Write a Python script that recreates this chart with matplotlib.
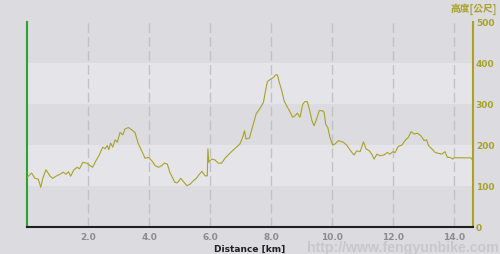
import matplotlib
matplotlib.use('Agg')
import matplotlib.pyplot as plt

# elevation profile
distance_km = [0.00, 0.15, 0.26, 0.37, 0.45, 0.51, 0.62, 0.75, 0.84, 0.97,
               1.08, 1.19, 1.28, 1.36, 1.43, 1.54, 1.65, 1.72, 1.83, 1.96,
               2.07, 2.15, 2.26, 2.37, 2.48, 2.56, 2.63, 2.68, 2.74, 2.81,
               2.89, 2.96, 3.05, 3.14, 3.21, 3.32, 3.40, 3.54, 3.65, 3.76,
               3.87, 3.98, 4.09, 4.20, 4.31, 4.42, 4.50, 4.60, 4.69, 4.85,
               4.93, 5.04, 5.13, 5.24, 5.35, 5.45, 5.55, 5.65, 5.73, 5.84,
               5.91, 5.93, 5.96, 6.05, 6.16, 6.27, 6.38, 6.49, 6.66, 6.82,
               6.98, 7.07, 7.13, 7.18, 7.29, 7.40, 7.51, 7.64, 7.75, 7.82,
               7.88, 7.99, 8.08, 8.16, 8.21, 8.27, 8.35, 8.43, 8.51, 8.60,
               8.71, 8.79, 8.86, 8.95, 9.04, 9.11, 9.19, 9.28, 9.34, 9.41,
               9.50, 9.58, 9.69, 9.74, 9.79, 9.86, 9.93, 10.02, 10.10, 10.21,
               10.37, 10.48, 10.61, 10.72, 10.81, 10.92, 11.03, 11.11, 11.22, 11.30,
               11.38, 11.47, 11.57, 11.70, 11.81, 11.90, 11.99, 12.07, 12.17, 12.29,
               12.39, 12.50, 12.59, 12.69, 12.80, 12.91, 13.02, 13.10, 13.16, 13.27,
               13.38, 13.49, 13.60, 13.70, 13.78, 13.87, 13.96, 14.00, 14.55, 14.58]
elevation_m = [120, 131, 118, 116, 96, 116, 139, 124, 118, 124,
               128, 133, 128, 134, 123, 139, 145, 141, 157, 155,
               149, 145, 161, 175, 194, 190, 198, 188, 204, 194,
               212, 206, 230, 224, 238, 242, 238, 230, 202, 185,
               167, 169, 161, 149, 145, 149, 155, 153, 131, 108,
               107, 118, 110, 100, 104, 112, 118, 128, 135, 124,
               124, 190, 157, 165, 163, 155, 155, 167, 180, 191,
               202, 218, 234, 214, 216, 246, 275, 289, 303, 332,
               354, 360, 364, 371, 370, 352, 332, 307, 295, 283,
               267, 271, 277, 267, 299, 305, 305, 279, 259, 246,
               264, 283, 283, 279, 250, 242, 218, 199, 202, 210,
               206, 199, 185, 175, 185, 183, 207, 190, 185, 177,
               165, 177, 173, 175, 181, 177, 183, 181, 196, 199,
               210, 218, 232, 226, 228, 222, 210, 212, 198, 190,
               181, 179, 177, 183, 169, 169, 165, 168, 168, 165]

x_ticks = [2, 4, 6, 8, 10, 12, 14]
y_ticks = [0, 100, 200, 300, 400, 500]

bg = '#dcdce0'
band_light = '#e5e5e9'
olive = '#a8a228'

fig = plt.figure(figsize=(5, 2.55), dpi=100, facecolor=bg)
ax = fig.add_axes([0.054, 0.107, 0.892, 0.804])
ax.set_facecolor(bg)

# alternating horizontal bands
for lo in (100, 300):
    ax.axhspan(lo, lo + 100, color=band_light, lw=0, zorder=0)

for xt in x_ticks:
    ax.axvline(xt, color='#c2c2c6', lw=1, dashes=(7, 3), zorder=1)

ax.plot(distance_km, elevation_m, color=olive, lw=0.8, zorder=3)

ax.set_xlim(0, 14.62)
ax.set_ylim(0, 500)
ax.set_xticks(x_ticks)
ax.set_xticklabels([f'{t:.1f}' for t in x_ticks])
ax.set_yticks(y_ticks)
ax.yaxis.tick_right()
ax.tick_params(axis='x', length=0, pad=4, labelsize=6.5, labelcolor='#8c8c8c')
ax.tick_params(axis='y', length=0, pad=2, labelsize=6.5, labelcolor=olive)
for lab in ax.get_xticklabels() + ax.get_yticklabels():
    lab.set_fontweight('bold')

ax.spines['top'].set_visible(False)
ax.spines['left'].set_color('#30a030')
ax.spines['left'].set_linewidth(1.5)
ax.spines['right'].set_color(olive)
ax.spines['right'].set_linewidth(1.5)
ax.spines['bottom'].set_color('#202020')
ax.spines['bottom'].set_linewidth(1.5)

ax.set_xlabel('Distance [km]', fontsize=6.5, fontweight='bold', color='#202020', labelpad=2)

fig.text(0.994, 0.965, '高度[公尺]', ha='right', va='center', fontsize=7,
         fontweight='bold', color=olive, family=['Noto Sans CJK TC', 'DejaVu Sans'])

# watermark
fig.text(0.614, 0.027, 'http://www.fengyunbike.com', ha='left', va='center',
         fontsize=10.2, fontweight='bold', color='#c8c8cc',
         family='Liberation Sans', zorder=0)

fig.savefig('out.png', dpi=100, facecolor=bg)
plt.close(fig)
